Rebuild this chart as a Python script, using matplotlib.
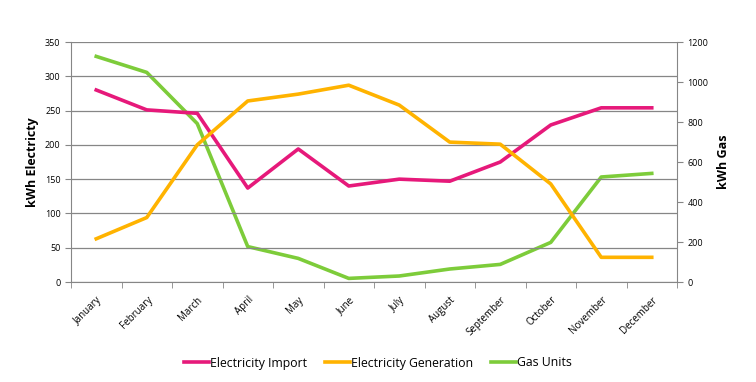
import numpy as np
import matplotlib.pyplot as plt

plt.rcParams['font.family'] = ['Open Sans', 'DejaVu Sans']

months = ['January', 'February', 'March', 'April', 'May', 'June', 'July',
          'August', 'September', 'October', 'November', 'December']
elec_import = [280, 251, 246, 137, 194, 140, 150, 147, 175, 229, 254, 254]
elec_generation = [63, 94, 200, 264, 274, 287, 258, 204, 201, 143, 36, 36]
gas_units = [1128, 1048, 792, 177, 118, 18, 30, 65, 88, 198, 525, 543]

c_import = '#E6197A'
c_gen = '#FFB300'
c_gas = '#7DCC3A'
grey = '#868686'

fig = plt.figure(figsize=(7.56, 3.82), dpi=100)
ax = fig.add_axes([71 / 756, 1 - 282 / 382, (677 - 71) / 756, 240 / 382])
ax2 = ax.twinx()

x = np.arange(len(months))
l1, = ax.plot(x, elec_import, color=c_import, lw=2.6, label='Electricity Import')
l2, = ax.plot(x, elec_generation, color=c_gen, lw=2.6, label='Electricity Generation')
l3, = ax2.plot(x, gas_units, color=c_gas, lw=2.6, label='Gas Units')
ax.set_zorder(ax2.get_zorder() + 1)
ax.patch.set_visible(False)

ax.set_xlim(-0.5, 11.5)
ax.set_ylim(0, 350)
ax2.set_ylim(0, 1200)
ax.set_yticks(range(0, 351, 50))
ax2.set_yticks(range(0, 1201, 200))
ax.set_xticks(x)
ax.set_xticks(np.arange(-0.5, 12, 1), minor=True)
ax.set_xticklabels(months, rotation=45, ha='right', rotation_mode='anchor')
ax.tick_params(axis='x', which='major', length=0, pad=9)
ax.tick_params(axis='x', which='minor', length=4, color=grey, direction='out')

for a in (ax, ax2):
    for s in a.spines.values():
        s.set_visible(False)
    a.tick_params(axis='y', length=4, color=grey, labelsize=6.5)
ax.tick_params(axis='x', labelsize=7)
ax.spines['left'].set_visible(True)
ax.spines['left'].set_color(grey)
ax.spines['bottom'].set_visible(True)
ax.spines['bottom'].set_color(grey)
ax2.spines['right'].set_visible(True)
ax2.spines['right'].set_color(grey)

ax.yaxis.grid(True, color=grey, lw=0.9)
ax.set_axisbelow(True)

ax.set_ylabel('kWh Electricty', fontsize=9, fontweight='bold', labelpad=4)
ax2.set_ylabel('kWh Gas', fontsize=9, fontweight='bold', labelpad=6)

fig.legend(handles=[l1, l2, l3], loc='center', bbox_to_anchor=(0.5, 1 - 363 / 382),
           ncol=3, frameon=False, fontsize=8.8, handlelength=2.0, handletextpad=0.1,
           columnspacing=1.5)

fig.savefig('out.png', dpi=100)
